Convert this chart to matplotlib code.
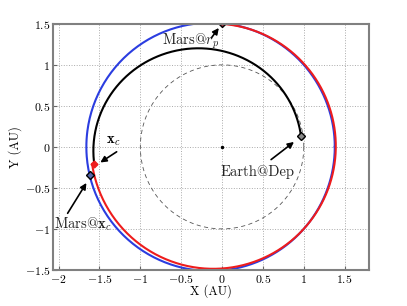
"""Earth-to-Mars transfer: heliocentric orbits with departure, switch point and rendezvous."""

import matplotlib
matplotlib.use("Agg")
import matplotlib.pyplot as plt
import numpy as np

plt.rcParams["font.family"] = ["cmr10", "DejaVu Serif"]
plt.rcParams["mathtext.fontset"] = "cm"
plt.rcParams["axes.unicode_minus"] = False

# Conic elements (semi-latus rectum p [AU], eccentricity vector components ex, ey)
MARS_P, MARS_EX, MARS_EY = 1.507, 0.0925, 0.0
XFER_P, XFER_EX, XFER_EY = 1.2053, 0.2342, 0.0304
COAST_P, COAST_EX, COAST_EY = 1.4914, 0.0716, -0.0057

# Arc spans (true longitude, deg)
XFER_SPAN = (7.4, 187.4)
COAST_SPAN = (187.4, 450.0)

# Marked points (AU)
earth_dep = (0.966, 0.134)
mars_rp = (0.0, 1.507)
x_c = (-1.565, -0.203)
mars_xc = (-1.62, -0.346)

EARTH_R = 1.0

x_ticks = [-2, -1.5, -1, -0.5, 0, 0.5, 1, 1.5]
y_ticks = [-1.5, -1, -0.5, 0, 0.5, 1, 1.5]


def conic(p, ex, ey, span, n=400):
    th = np.radians(np.linspace(span[0], span[1], n))
    r = p / (1 + ex * np.cos(th) + ey * np.sin(th))
    return r * np.cos(th), r * np.sin(th)


def tick_label(v):
    return f"${v:g}$"


fig = plt.figure(figsize=(4.07, 3.06), dpi=100)
ax = fig.add_axes([0.130, 0.118, 0.777, 0.804])

th = np.linspace(0, 2 * np.pi, 400)
ax.plot(EARTH_R * np.cos(th), EARTH_R * np.sin(th), "--", color="#555555", lw=0.6,
        dashes=(5, 4))
ax.plot(0, 0, "o", color="k", ms=1.5)

mx, my = conic(MARS_P, MARS_EX, MARS_EY, (0, 360))
ax.plot(mx, my, color="#2b3de0", lw=1.5)
# coast arc starts at the switch point x_c
cx, cy = conic(COAST_P, COAST_EX, COAST_EY, COAST_SPAN)
cx, cy = np.r_[x_c[0], cx], np.r_[x_c[1], cy]
ax.plot(cx, cy, color="#ee1c1c", lw=1.5)
tx, ty = conic(XFER_P, XFER_EX, XFER_EY, XFER_SPAN)
ax.plot(tx, ty, color="k", lw=1.5)

ax.plot(*earth_dep, "D", ms=4, mfc="#888888", mec="k", mew=1)
ax.plot(*mars_rp, "D", ms=4, mfc="#aa3344", mec="k", mew=1)
ax.plot(*mars_xc, "D", ms=4, mfc="#5566aa", mec="k", mew=1)
ax.plot(*x_c, "D", ms=3.5, mfc="#ee1c1c", mec="#ee1c1c", mew=1)

arrow = dict(arrowstyle="-|>", color="k", lw=1.2, mutation_scale=9, shrinkA=0, shrinkB=0)
ax.annotate("", xy=(-0.04, 1.45), xytext=(-0.13, 1.33), arrowprops=arrow)
ax.text(-0.39, 1.29, r"Mars@$r_p$", fontsize=10.5, ha="center", va="center", color="#222222")
ax.annotate("", xy=(-1.49, -0.19), xytext=(-1.29, -0.06), arrowprops=arrow)
ax.text(-1.33, 0.07, r"$\mathbf{x}_c$", fontsize=10.5, ha="center", va="center")
ax.annotate("", xy=(-1.66, -0.44), xytext=(-1.89, -0.81), arrowprops=arrow)
ax.text(-1.70, -0.94, r"Mars@$\mathbf{x}_c$", fontsize=10.5, ha="center", va="center",
        color="#222222")
ax.annotate("", xy=(0.88, 0.06), xytext=(0.60, -0.155), arrowprops=arrow)
ax.text(0.43, -0.31, "Earth@Dep", fontsize=10.5, ha="center", va="center", color="#222222")

ax.set_xlim(-2.07, 1.8)
ax.set_ylim(-1.5, 1.5)
ax.set_xticks(x_ticks)
ax.set_xticklabels([tick_label(v) for v in x_ticks])
ax.set_yticks(y_ticks)
ax.set_yticklabels([tick_label(v) for v in y_ticks])
ax.tick_params(direction="in", length=3, labelsize=8.5, color="#666666", pad=2)
ax.grid(True, linestyle=":", color="#aaaaaa", lw=0.7)
ax.set_axisbelow(True)
for sp in ax.spines.values():
    sp.set_color("#808080")
    sp.set_linewidth(1.5)

ax.set_xlabel("X (AU)", fontsize=9, labelpad=0)
ax.set_ylabel("Y (AU)", fontsize=9, labelpad=2)

fig.savefig("out.png", dpi=100)
